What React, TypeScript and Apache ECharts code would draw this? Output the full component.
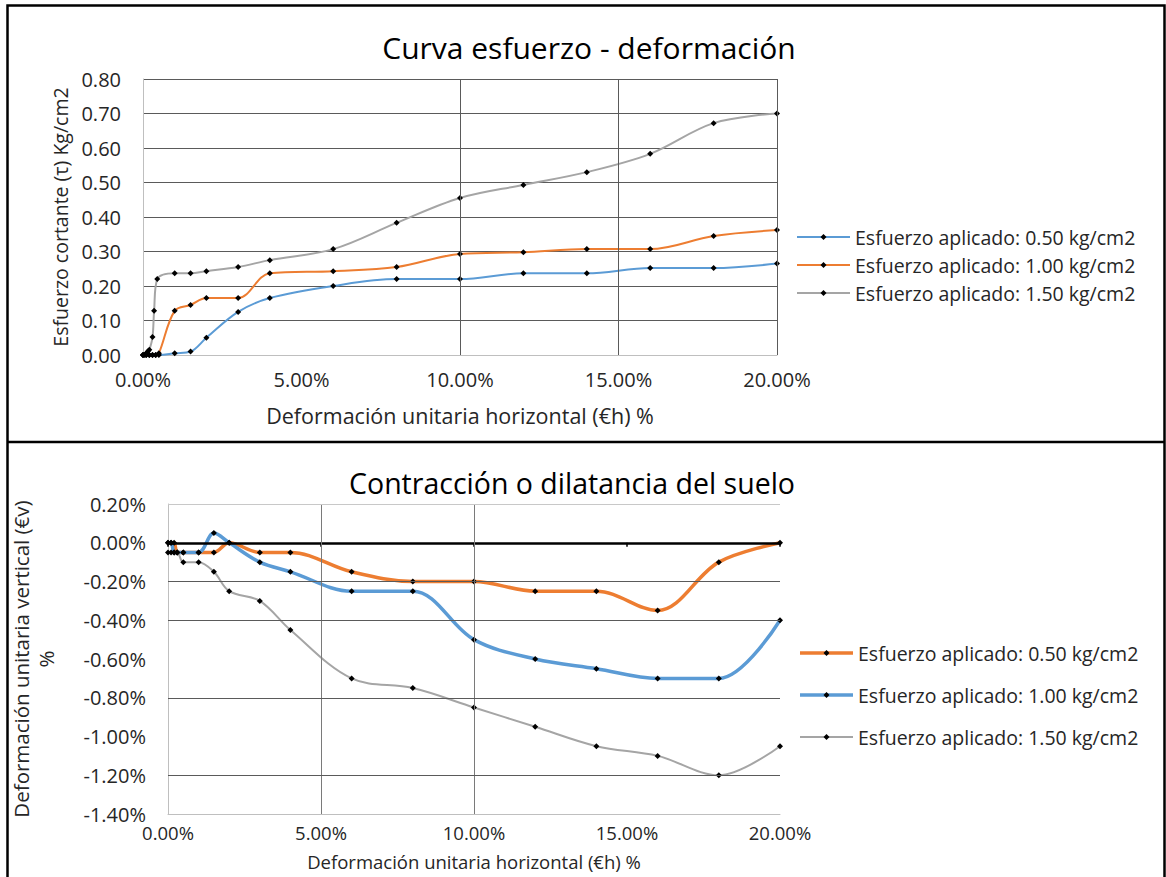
import React, { useEffect, useRef } from "react";
import * as echarts from "echarts";

// ---------- Top chart data: Curva esfuerzo - deformación ----------
const topTitle = "Curva esfuerzo - deformación";
const topXName = "Deformación unitaria horizontal (€h) %";
const topYName = "Esfuerzo cortante (τ) Kg/cm2";
const topNames = [
  "Esfuerzo aplicado: 0.50 kg/cm2",
  "Esfuerzo aplicado: 1.00 kg/cm2",
  "Esfuerzo aplicado: 1.50 kg/cm2",
];
const topColors = ["#5b9bd5", "#ed7d31", "#a5a5a5"];

const top050X = [0, 0.1, 0.2, 0.3, 0.4, 0.5, 1, 1.5, 2, 3, 4, 6, 8, 10, 12, 14, 16, 18, 20];
const top050Y = [0, 0, 0, 0, 0, 0, 0.005, 0.01, 0.05, 0.125, 0.165, 0.2, 0.22, 0.22, 0.237, 0.237, 0.252, 0.252, 0.265];
const top100X = [0, 0.1, 0.2, 0.3, 0.4, 0.5, 1, 1.5, 2, 3, 4, 6, 8, 10, 12, 14, 16, 18, 20];
const top100Y = [0, 0, 0, 0, 0, 0.005, 0.128, 0.145, 0.165, 0.165, 0.237, 0.243, 0.255, 0.293, 0.298, 0.307, 0.307, 0.345, 0.362];
const top150X = [0, 0.05, 0.1, 0.15, 0.2, 0.3, 0.35, 0.45, 1, 1.5, 2, 3, 4, 6, 8, 10, 12, 14, 16, 18, 20];
const top150Y = [0, 0, 0.005, 0.01, 0.015, 0.052, 0.128, 0.22, 0.237, 0.237, 0.243, 0.255, 0.275, 0.307, 0.383, 0.455, 0.493, 0.53, 0.583, 0.672, 0.7];

// ---------- Bottom chart data: Contracción o dilatancia del suelo ----------
const botTitle = "Contracción o dilatancia del suelo";
const botXName = "Deformación unitaria horizontal (€h) %";
const botYName = "Deformación unitaria vertical (€v)\n%";
const botNames = [
  "Esfuerzo aplicado: 0.50 kg/cm2",
  "Esfuerzo aplicado: 1.00 kg/cm2",
  "Esfuerzo aplicado: 1.50 kg/cm2",
];
const botColors = ["#ed7d31", "#5b9bd5", "#a5a5a5"];
const botWidths = [3.5, 3.5, 2];

const bot050X = [0, 0.1, 0.2, 0.3, 0.5, 1, 1.5, 2, 3, 4, 6, 8, 10, 12, 14, 16, 18, 20];
const bot050Y = [0, 0, 0, -0.05, -0.05, -0.05, -0.05, 0, -0.05, -0.05, -0.15, -0.2, -0.2, -0.25, -0.25, -0.35, -0.1, 0];
const bot100X = [0, 0.1, 0.2, 0.3, 0.5, 1, 1.5, 2, 3, 4, 6, 8, 10, 12, 14, 16, 18, 20];
const bot100Y = [0, 0, -0.05, -0.05, -0.05, -0.05, 0.05, 0, -0.1, -0.15, -0.25, -0.25, -0.5, -0.6, -0.65, -0.7, -0.7, -0.4];
const bot150X = [0, 0.1, 0.2, 0.3, 0.5, 1, 1.5, 2, 3, 4, 6, 8, 10, 12, 14, 16, 18, 20];
const bot150Y = [-0.05, -0.05, -0.05, -0.05, -0.1, -0.1, -0.15, -0.25, -0.3, -0.45, -0.7, -0.75, -0.85, -0.95, -1.05, -1.1, -1.2, -1.05];

const xTicksMin = 0;
const xTicksMax = 20;
const xTicksStep = 5;

const FONT = "'Open Sans', 'Noto Sans', sans-serif";
const TEXT = "#262626";

function pairs(xs: number[], ys: number[]) {
  return xs.map((x, i) => [x, ys[i]]);
}

function legendItems(names: string[], colors: string[], widths: number[], x0: number, y0: number, gap: number) {
  const out: any[] = [];
  names.forEach((n, i) => {
    const y = y0 + i * gap;
    out.push({
      type: "line",
      shape: { x1: x0, y1: y, x2: x0 + 53, y2: y },
      style: { stroke: colors[i], lineWidth: widths[i] },
      silent: true,
    });
    const cx = x0 + 26.5;
    out.push({
      type: "polygon",
      shape: { points: [[cx, y - 3], [cx + 3, y], [cx, y + 3], [cx - 3, y]] },
      style: { fill: "#000" },
      silent: true,
    });
    out.push({
      type: "text",
      x: x0 + 58,
      y,
      style: { text: n, font: `19.5px ${FONT}`, fill: TEXT, verticalAlign: "middle", align: "left" },
      silent: true,
    });
  });
  return out;
}

export default function App() {
  const ref = useRef<HTMLDivElement>(null);
  useEffect(() => {
    if (!ref.current) return;
    const chart = echarts.init(ref.current, undefined, { renderer: "svg" });
    const pct = (v: number) => v.toFixed(2) + "%";
    const common = { fontFamily: FONT, color: TEXT };

    const topSeriesData = [pairs(top050X, top050Y), pairs(top100X, top100Y), pairs(top150X, top150Y)];
    const botSeriesData = [pairs(bot050X, bot050Y), pairs(bot100X, bot100Y), pairs(bot150X, bot150Y)];

    const series: any[] = [];
    topSeriesData.forEach((d, i) => {
      series.push({
        type: "line",
        name: "top" + i,
        xAxisIndex: 0,
        yAxisIndex: 0,
        data: d,
        smooth: 0.35,
        symbol: "diamond",
        symbolSize: 6,
        showSymbol: true,
        itemStyle: { color: "#000" },
        lineStyle: { color: topColors[i], width: 2 },
        z: 3,
        markLine:
          i === 0
            ? {
                silent: true,
                symbol: "none",
                label: { show: false },
                lineStyle: { color: "#5a5a5a", width: 1, type: "solid" },
                data: [{ xAxis: 10 }, { xAxis: 15 }, { xAxis: 20 }],
              }
            : undefined,
      });
    });
    botSeriesData.forEach((d, i) => {
      series.push({
        type: "line",
        name: "bot" + i,
        xAxisIndex: 1,
        yAxisIndex: 1,
        data: d,
        smooth: 0.35,
        symbol: "diamond",
        symbolSize: 6,
        showSymbol: true,
        itemStyle: { color: "#000" },
        lineStyle: { color: botColors[i], width: botWidths[i] },
        z: 3,
        markLine:
          i === 0
            ? {
                silent: true,
                symbol: "none",
                label: { show: false },
                lineStyle: { color: "#5a5a5a", width: 1, type: "solid" },
                data: [
                  { xAxis: 5, lineStyle: { color: "#7a7a7a" } },
                  { xAxis: 10, lineStyle: { color: "#7a7a7a" } },
                  { yAxis: -0.2 },
                  { yAxis: -0.4 },
                  { yAxis: -0.8 },
                  { yAxis: -1.2 },
                  { yAxis: 0.2, lineStyle: { color: "#c8c8c8" } },
                ],
              }
            : undefined,
      });
    });

    const option: any = {
      animation: false,
      backgroundColor: "#fff",
      textStyle: { fontFamily: FONT },
      grid: [
        { left: 143, top: 79, width: 634, height: 276, containLabel: false },
        { left: 167, top: 504, width: 613, height: 310, containLabel: false },
      ],
      xAxis: [
        {
          type: "value",
          gridIndex: 0,
          min: xTicksMin,
          max: xTicksMax,
          interval: xTicksStep,
          name: topXName,
          nameLocation: "middle",
          nameGap: 49,
          nameTextStyle: { ...common, fontSize: 21.5 },
          axisLine: { show: true, onZero: false, lineStyle: { color: "#bfbfbf", width: 1 } },
          axisTick: { show: false },
          splitLine: { show: false },
          axisLabel: { ...common, fontSize: 20, margin: 14, formatter: pct },
        },
        {
          type: "value",
          gridIndex: 1,
          min: xTicksMin,
          max: xTicksMax,
          interval: xTicksStep,
          name: botXName,
          nameLocation: "middle",
          nameGap: 38,
          nameTextStyle: { ...common, fontSize: 18.5 },
          axisLine: { show: true, onZero: false, lineStyle: { color: "#bfbfbf", width: 1 } },
          axisTick: { show: false },
          splitLine: { show: false },
          axisLabel: { ...common, fontSize: 18.5, margin: 9, formatter: pct },
        },
        {
          type: "value",
          gridIndex: 1,
          position: "bottom",
          min: xTicksMin,
          max: xTicksMax,
          interval: xTicksStep,
          axisLine: { show: true, onZero: true, lineStyle: { color: "#000", width: 2.5 } },
          axisTick: { show: true, length: 4, lineStyle: { color: "#000", width: 1.5 } },
          splitLine: { show: false },
          axisLabel: { show: false },
          z: 4,
        },
      ],
      yAxis: [
        {
          type: "value",
          gridIndex: 0,
          min: 0,
          max: 0.8,
          interval: 0.1,
          name: topYName,
          nameLocation: "middle",
          nameRotate: 90,
          nameGap: 72,
          nameTextStyle: { ...common, fontSize: 19.5 },
          axisLine: { show: true, lineStyle: { color: "#bfbfbf", width: 1 } },
          axisTick: { show: false },
          splitLine: { show: true, lineStyle: { color: "#5a5a5a", width: 1 } },
          axisLabel: { ...common, fontSize: 20, margin: 22, formatter: (v: number) => v.toFixed(2) },
        },
        {
          type: "value",
          gridIndex: 1,
          min: -1.4,
          max: 0.2,
          interval: 0.2,
          name: botYName,
          nameLocation: "middle",
          nameRotate: 90,
          nameGap: 110,
          nameTextStyle: { ...common, fontSize: 20.5, lineHeight: 25 },
          axisLine: { show: true, onZero: false, lineStyle: { color: "#bfbfbf", width: 1 } },
          axisTick: { show: false },
          splitLine: { show: false },
          axisLabel: { ...common, fontSize: 20, margin: 22, formatter: pct },
        },
      ],
      graphic: [
        {
          type: "rect",
          shape: { x: 7.5, y: 5.5, width: 1157, height: 900 },
          style: { fill: "none", stroke: "#000", lineWidth: 2.5 },
          silent: true,
          z: 10,
        },
        {
          type: "line",
          shape: { x1: 7.5, y1: 442, x2: 1164.5, y2: 442 },
          style: { stroke: "#000", lineWidth: 2.5 },
          silent: true,
          z: 10,
        },
        {
          type: "text",
          x: 589,
          y: 47,
          style: { text: topTitle, font: `30px ${FONT}`, fill: "#000", align: "center", verticalAlign: "middle" },
          silent: true,
        },
        {
          type: "text",
          x: 572,
          y: 483,
          style: { text: botTitle, font: `28.5px ${FONT}`, fill: "#000", align: "center", verticalAlign: "middle" },
          silent: true,
        },
        ...legendItems(topNames, topColors, [2, 2, 2], 797, 237, 28),
        ...legendItems(botNames, botColors, botWidths, 800, 653, 42),
      ],
      series,
    };
    chart.setOption(option);
    return () => chart.dispose();
  }, []);
  return (
    <div
      ref={ref}
      style={{ position: "absolute", left: 0, top: 0, width: 1166, height: 877, background: "#fff" }}
    />
  );
}
